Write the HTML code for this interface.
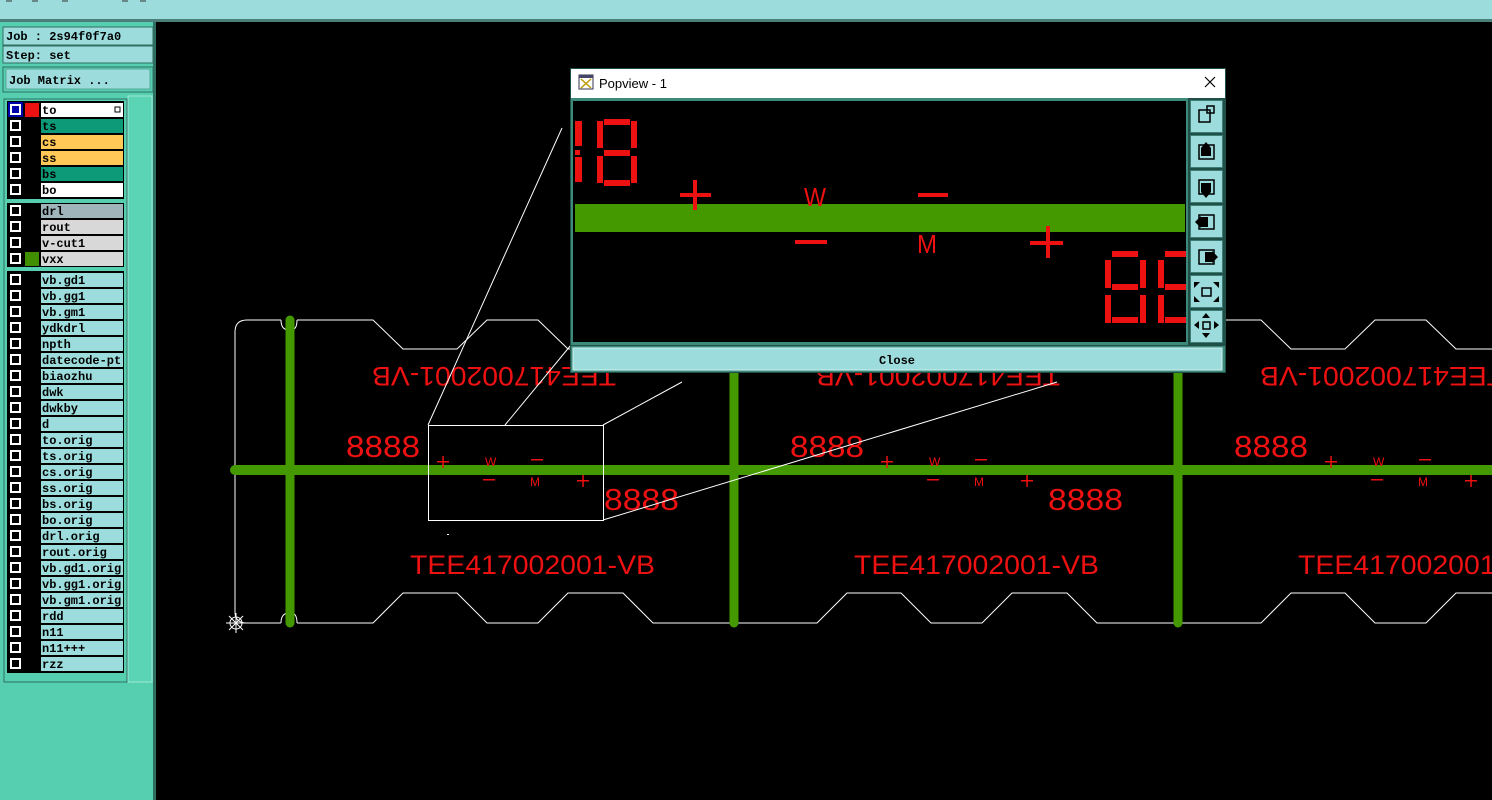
<!DOCTYPE html>
<html><head><meta charset="utf-8"><style>
html,body{margin:0;padding:0;background:#000;width:1492px;height:800px;overflow:hidden}
svg{display:block}
.m{font-family:"Liberation Mono",monospace;font-weight:bold;font-size:12px;fill:#000}
.r{font-family:"Liberation Sans",sans-serif;fill:#ee1111}
</style></head><body>
<svg width="1492" height="800" viewBox="0 0 1492 800" xmlns="http://www.w3.org/2000/svg">
<rect width="1492" height="800" fill="#000"/>
<!-- top bar -->
<rect x="0" y="0" width="1492" height="20" fill="#9cdcdc"/>
<rect x="0" y="19" width="1492" height="3" fill="#4a7f7a"/>
<g stroke="#333" stroke-width="1"><line x1="6" y1="1" x2="12" y2="1"/><line x1="32" y1="1" x2="38" y2="1"/><line x1="62" y1="1" x2="68" y2="1"/><line x1="122" y1="1" x2="128" y2="1"/><line x1="140" y1="1" x2="146" y2="1"/></g>

<!-- left panel -->
<rect x="0" y="22" width="155" height="778" fill="#55cfb0"/>
<rect x="153" y="22" width="3" height="778" fill="#2f6f62"/>
<rect x="3" y="27" width="150" height="18" fill="#9cdcdc" stroke="#2f6f62"/>
<text x="6" y="40" class="m" font-size="13">Job : 2s94f0f7a0</text>
<rect x="3" y="46" width="150" height="17" fill="#9cdcdc" stroke="#2f6f62"/>
<text x="6" y="59" class="m" font-size="13">Step: set</text>
<rect x="3" y="67" width="150" height="25" fill="#55cfb0" stroke="#2f6f62"/>
<rect x="6" y="69" width="144" height="20" fill="#9cdcdc" stroke="#5a9"/>
<text x="9" y="84" class="m" font-size="13">Job Matrix ...</text>
<rect x="128" y="96" width="24" height="586" fill="#5ad4b4" stroke="#9ee8d6"/>
<rect x="4" y="99" width="123" height="583" fill="#55cfb0" stroke="#2f6f62"/>
<rect x="7" y="101" width="117" height="98" fill="#000"/>
<rect x="7" y="203" width="117" height="64" fill="#000"/>
<rect x="7" y="271" width="117" height="402" fill="#000"/>

<rect x="41" y="103" width="82" height="14" fill="#fff"/><rect x="41" y="119" width="82" height="14" fill="#0c9a78"/>
<rect x="41" y="135" width="82" height="14" fill="#ffc857"/><rect x="41" y="151" width="82" height="14" fill="#ffc857"/>
<rect x="41" y="167" width="82" height="14" fill="#0c9a78"/><rect x="41" y="183" width="82" height="14" fill="#fff"/>
<rect x="8" y="102" width="15" height="15" fill="#0000aa"/><rect x="25" y="103" width="14" height="14" fill="#ee1111"/>
<text x="42" y="114" class="m">to</text><text x="42" y="130" class="m">ts</text><text x="42" y="146" class="m">cs</text>
<text x="42" y="162" class="m">ss</text><text x="42" y="178" class="m">bs</text><text x="42" y="194" class="m">bo</text>
<rect x="115" y="107" width="5" height="5" fill="none" stroke="#000"/>
<rect x="41" y="204" width="82" height="14" fill="#a0b4bc"/><rect x="41" y="220" width="82" height="14" fill="#d8d8d8"/>
<rect x="41" y="236" width="82" height="14" fill="#d8d8d8"/><rect x="41" y="252" width="82" height="14" fill="#d8d8d8"/>
<rect x="25" y="252" width="14" height="14" fill="#3f8f00"/>
<text x="42" y="215" class="m">drl</text><text x="42" y="231" class="m">rout</text><text x="42" y="247" class="m">v-cut1</text><text x="42" y="263" class="m">vxx</text>
<g fill="#9cdcdc">
<rect x="41" y="273" width="82" height="14"/><rect x="41" y="289" width="82" height="14"/><rect x="41" y="305" width="82" height="14"/><rect x="41" y="321" width="82" height="14"/><rect x="41" y="337" width="82" height="14"/><rect x="41" y="353" width="82" height="14"/><rect x="41" y="369" width="82" height="14"/><rect x="41" y="385" width="82" height="14"/><rect x="41" y="401" width="82" height="14"/><rect x="41" y="417" width="82" height="14"/><rect x="41" y="433" width="82" height="14"/><rect x="41" y="449" width="82" height="14"/><rect x="41" y="465" width="82" height="14"/><rect x="41" y="481" width="82" height="14"/><rect x="41" y="497" width="82" height="14"/><rect x="41" y="513" width="82" height="14"/><rect x="41" y="529" width="82" height="14"/><rect x="41" y="545" width="82" height="14"/><rect x="41" y="561" width="82" height="14"/><rect x="41" y="577" width="82" height="14"/><rect x="41" y="593" width="82" height="14"/><rect x="41" y="609" width="82" height="14"/><rect x="41" y="625" width="82" height="14"/><rect x="41" y="641" width="82" height="14"/><rect x="41" y="657" width="82" height="14"/>
</g>
<text x="42" y="284" class="m">vb.gd1</text><text x="42" y="300" class="m">vb.gg1</text><text x="42" y="316" class="m">vb.gm1</text><text x="42" y="332" class="m">ydkdrl</text><text x="42" y="348" class="m">npth</text><text x="42" y="364" class="m">datecode-pt</text><text x="42" y="380" class="m">biaozhu</text><text x="42" y="396" class="m">dwk</text><text x="42" y="412" class="m">dwkby</text><text x="42" y="428" class="m">d</text><text x="42" y="444" class="m">to.orig</text><text x="42" y="460" class="m">ts.orig</text><text x="42" y="476" class="m">cs.orig</text><text x="42" y="492" class="m">ss.orig</text><text x="42" y="508" class="m">bs.orig</text><text x="42" y="524" class="m">bo.orig</text><text x="42" y="540" class="m">drl.orig</text><text x="42" y="556" class="m">rout.orig</text><text x="42" y="572" class="m">vb.gd1.orig</text><text x="42" y="588" class="m">vb.gg1.orig</text><text x="42" y="604" class="m">vb.gm1.orig</text><text x="42" y="620" class="m">rdd</text><text x="42" y="636" class="m">n11</text><text x="42" y="652" class="m">n11+++</text><text x="42" y="668" class="m">rzz</text>
<g fill="none" stroke="#fff" stroke-width="2">
<rect x="11" y="105" width="9" height="9"/><rect x="11" y="121" width="9" height="9"/><rect x="11" y="137" width="9" height="9"/><rect x="11" y="153" width="9" height="9"/><rect x="11" y="169" width="9" height="9"/><rect x="11" y="185" width="9" height="9"/>
<rect x="11" y="206" width="9" height="9"/><rect x="11" y="222" width="9" height="9"/><rect x="11" y="238" width="9" height="9"/><rect x="11" y="254" width="9" height="9"/>
<rect x="11" y="275" width="9" height="9"/><rect x="11" y="291" width="9" height="9"/><rect x="11" y="307" width="9" height="9"/><rect x="11" y="323" width="9" height="9"/><rect x="11" y="339" width="9" height="9"/><rect x="11" y="355" width="9" height="9"/><rect x="11" y="371" width="9" height="9"/><rect x="11" y="387" width="9" height="9"/><rect x="11" y="403" width="9" height="9"/><rect x="11" y="419" width="9" height="9"/><rect x="11" y="435" width="9" height="9"/><rect x="11" y="451" width="9" height="9"/><rect x="11" y="467" width="9" height="9"/><rect x="11" y="483" width="9" height="9"/><rect x="11" y="499" width="9" height="9"/><rect x="11" y="515" width="9" height="9"/><rect x="11" y="531" width="9" height="9"/><rect x="11" y="547" width="9" height="9"/><rect x="11" y="563" width="9" height="9"/><rect x="11" y="579" width="9" height="9"/><rect x="11" y="595" width="9" height="9"/><rect x="11" y="611" width="9" height="9"/><rect x="11" y="627" width="9" height="9"/><rect x="11" y="643" width="9" height="9"/><rect x="11" y="659" width="9" height="9"/>
</g>

<!-- board outline -->
<g fill="none" stroke="#fff" stroke-width="1">
<path d="M281,320 L247,320 Q235,320 235,332 L235,612 Q235,623 247,623 L281,623"/>
<path d="M297,320 L373,320 L403,349 L457,349 L487,320 L538,320 L568,349 L623,349 L653,320 L817,320 L847,349 L901,349 L931,320 L982,320 L1012,349 L1067,349 L1097,320 L1261,320 L1291,349 L1345,349 L1375,320 L1426,320 L1456,349 L1500,349"/>
<path d="M297,623 L373,623 L403,593 L457,593 L487,623 L538,623 L568,593 L623,593 L653,623 L817,623 L847,593 L901,593 L931,623 L982,623 L1012,593 L1067,593 L1097,623 L1261,623 L1291,593 L1345,593 L1375,623 L1426,623 L1456,593 L1500,593"/>
<path d="M281,320 Q281,330 289,330 M297,320 Q297,330 291,330"/>
<path d="M281,623 Q281,613 289,613 M297,623 Q297,613 291,613"/>
</g>
<g stroke="#449900" stroke-linecap="round">
<line x1="235" y1="470" x2="1500" y2="470" stroke-width="10"/>
<line x1="290" y1="320" x2="290" y2="623" stroke-width="9"/>
<line x1="734" y1="320" x2="734" y2="623" stroke-width="9"/>
<line x1="1178" y1="320" x2="1178" y2="623" stroke-width="9"/>
</g>
<g stroke="#fff" stroke-width="1" fill="none"><circle cx="236" cy="623" r="6"/><line x1="226" y1="623" x2="246" y2="623"/><line x1="236" y1="613" x2="236" y2="633"/><line x1="229" y1="616" x2="243" y2="630"/><line x1="243" y1="616" x2="229" y2="630"/></g>

<g id="u0">
<text class="r" x="410" y="574" font-size="27" textLength="245" lengthAdjust="spacingAndGlyphs">TEE417002001-VB</text>
<text class="r" transform="translate(616,367) rotate(180)" font-size="27" textLength="244" lengthAdjust="spacingAndGlyphs">TEE417002001-VB</text>
<text class="r" x="346" y="457" font-size="31" textLength="74" lengthAdjust="spacingAndGlyphs" font-family="Liberation Mono">8888</text>
<text class="r" x="604" y="510" font-size="31" textLength="75" lengthAdjust="spacingAndGlyphs" font-family="Liberation Mono">8888</text>
<g fill="#ee1111">
<rect x="437" y="461" width="12" height="1.5"/><rect x="442.3" y="456" width="1.5" height="12"/>
<rect x="531" y="459" width="12" height="1.5"/>
<rect x="483" y="479" width="12" height="1.5"/>
<rect x="577" y="480" width="12" height="1.5"/><rect x="582.3" y="475" width="1.5" height="12"/>
</g>
<text class="r" x="485" y="466" font-size="12">W</text>
<text class="r" x="530" y="486" font-size="12">M</text>
</g>
<use href="#u0" x="444"/>
<use href="#u0" x="888"/>

<g stroke="#fff" stroke-width="1" fill="none">
<rect x="428.5" y="425.5" width="175" height="95"/>
<line x1="428" y1="425" x2="562" y2="128"/>
<line x1="505" y1="425" x2="571" y2="345"/>
<line x1="603" y1="425" x2="682" y2="382"/>
<line x1="603" y1="520" x2="1057" y2="382"/>
</g>
<rect x="447" y="534" width="2" height="1" fill="#fff"/>

<!-- popup -->
<rect x="570" y="68" width="656" height="305" fill="#1f4f47"/>
<rect x="571" y="69" width="654" height="29" fill="#fff"/>
<rect x="579" y="75" width="14" height="14" fill="#fff" stroke="#335"/>
<path d="M581,79 L591,88 M591,79 L581,88" stroke="#b90" stroke-width="1.5"/>
<rect x="579" y="75" width="14" height="3" fill="#446"/>
<text x="599" y="88" font-family="Liberation Sans,sans-serif" font-size="13" fill="#000">Popview - 1</text>
<path d="M1205,77 L1215,87 M1215,77 L1205,87" stroke="#000" stroke-width="1.2"/>
<rect x="571" y="98" width="618" height="247" fill="#3d8a7a"/>
<rect x="573" y="101" width="613" height="241" fill="#000"/>
<rect x="575" y="204" width="610" height="28" fill="#449900"/>
<g fill="#ee1111">
<rect x="575" y="121" width="7" height="25"/><rect x="575" y="157" width="7" height="25"/><rect x="575" y="150" width="5" height="5"/>
<rect x="597" y="121" width="6" height="27"/><rect x="631" y="121" width="6" height="27"/><rect x="597" y="156" width="6" height="27"/><rect x="631" y="156" width="6" height="27"/>
<rect x="604" y="119" width="26" height="6"/><rect x="604" y="150" width="26" height="6"/><rect x="604" y="180" width="26" height="6"/>
<rect x="680" y="193" width="31" height="4"/><rect x="693" y="180" width="4" height="30"/>
<rect x="918" y="193" width="30" height="4"/>
<rect x="795" y="240" width="32" height="4"/>
<rect x="1030" y="241" width="33" height="4"/><rect x="1046" y="226" width="4" height="32"/>
<rect x="1105" y="260" width="6" height="28"/><rect x="1105" y="295" width="6" height="28"/><rect x="1140" y="260" width="6" height="28"/><rect x="1140" y="295" width="6" height="28"/>
<rect x="1112" y="251" width="26" height="6"/><rect x="1112" y="284" width="26" height="6"/><rect x="1112" y="317" width="26" height="6"/>
<rect x="1158" y="260" width="6" height="28"/><rect x="1158" y="295" width="6" height="28"/>
<rect x="1165" y="251" width="21" height="6"/><rect x="1165" y="284" width="21" height="6"/><rect x="1165" y="317" width="21" height="6"/>
</g>
<text class="r" x="804" y="206" font-size="26" textLength="22" lengthAdjust="spacingAndGlyphs">W</text>
<text class="r" x="917" y="253" font-size="26" textLength="20" lengthAdjust="spacingAndGlyphs">M</text>
<rect x="1188" y="98" width="37" height="247" fill="#1f4f47"/>
<g fill="#9cdcdc" stroke="#3d7d75">
<rect x="1190.5" y="100.5" width="32" height="32"/><rect x="1190.5" y="135.5" width="32" height="32"/><rect x="1190.5" y="170.5" width="32" height="32"/><rect x="1190.5" y="205.5" width="32" height="32"/><rect x="1190.5" y="240.5" width="32" height="32"/><rect x="1190.5" y="275.5" width="32" height="32"/><rect x="1190.5" y="310.5" width="32" height="32"/>
</g>
<g fill="none" stroke="#000" stroke-width="1.5">
<rect x="1199" y="110" width="11" height="12"/><rect x="1207" y="106" width="7" height="7"/>
<rect x="1199" y="145" width="15" height="14"/><rect x="1199" y="180" width="15" height="14"/>
<rect x="1199" y="215" width="15" height="14"/><rect x="1199" y="250" width="15" height="14"/>
<rect x="1202" y="288" width="9" height="8"/><rect x="1203" y="322" width="7" height="7"/>
</g>
<g fill="#000">
<path d="M1206,142 L1211,148 L1201,148Z"/><rect x="1201" y="148" width="10" height="8"/>
<path d="M1206,198 L1211,192 L1201,192Z"/><rect x="1201" y="183" width="10" height="9"/>
<path d="M1195,222 L1201,216 L1201,228Z"/><rect x="1201" y="217" width="7" height="10"/>
<path d="M1218,257 L1212,251 L1212,263Z"/><rect x="1205" y="252" width="7" height="10"/>
<path d="M1194,282 L1200,282 L1194,288Z M1219,282 L1213,282 L1219,288Z M1194,302 L1200,302 L1194,296Z M1219,302 L1213,302 L1219,296Z"/>
<path d="M1206,313 L1210,318 L1202,318Z M1206,338 L1210,333 L1202,333Z M1194,325 L1199,321 L1199,329Z M1219,325 L1214,321 L1214,329Z"/>
</g>
<rect x="571" y="346" width="654" height="26" fill="#3d8a7a"/>
<rect x="573" y="348" width="649" height="22" fill="#9cdcdc" stroke="#d0f0f0"/>
<text x="897" y="364" class="m" text-anchor="middle" font-size="13">Close</text>
</svg>
</body></html>
